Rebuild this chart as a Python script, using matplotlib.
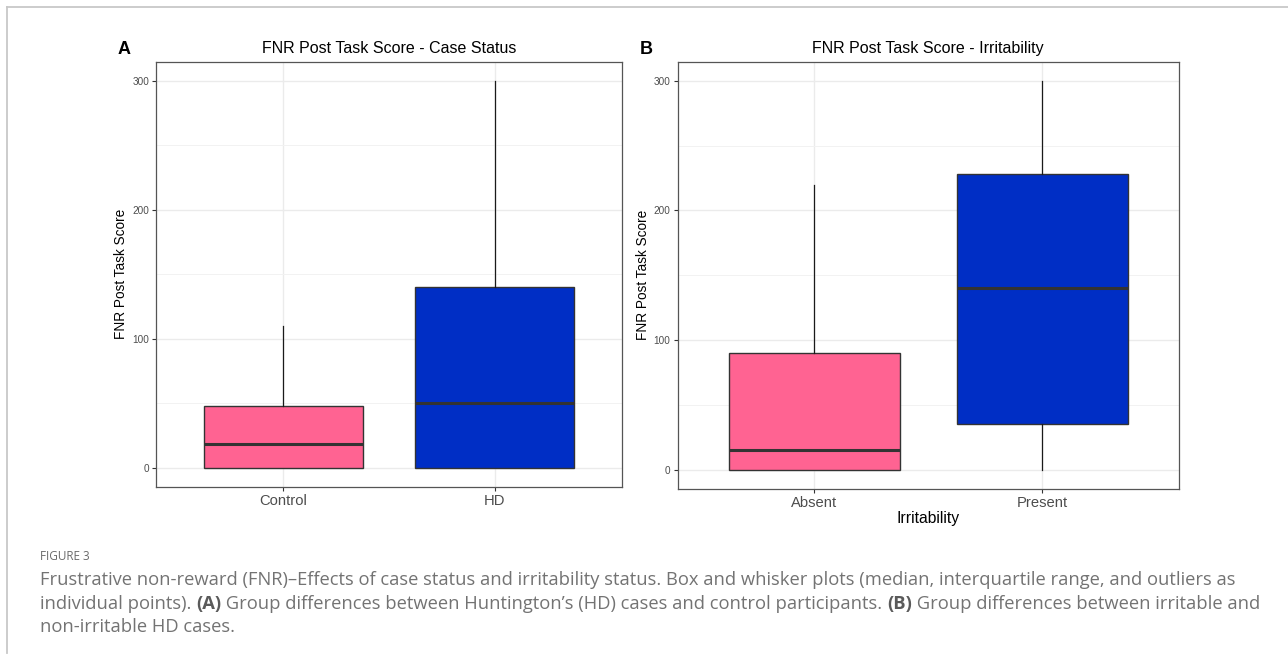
import matplotlib
matplotlib.use("Agg")
import matplotlib.pyplot as plt
from matplotlib.ticker import MultipleLocator

# ---- data ----
case_groups = ["Control", "HD"]
case_q1 = [0, 0]
case_med = [18, 50]
case_q3 = [48, 140]
case_whislo = [0, 0]
case_whishi = [110, 300]

irr_groups = ["Absent", "Present"]
irr_q1 = [0, 35]
irr_med = [15, 140]
irr_q3 = [90, 228]
irr_whislo = [0, 0]
irr_whishi = [220, 300]

y_ticks = [0, 100, 200, 300]
colors = ["#FF6392", "#002EC5"]

W, H = 1288, 657
fig = plt.figure(figsize=(W / 100, H / 100), dpi=100)
fig.patch.set_facecolor("white")


def rect(l, t, r, b):
    return [l / W, 1 - b / H, (r - l) / W, (b - t) / H]


def panel(ax, groups, q1, med, q3, lo, hi, title, xlabel=None):
    stats = []
    for g, a, m, c, wl, wh in zip(groups, q1, med, q3, lo, hi):
        stats.append(dict(label=g, q1=a, med=m, q3=c, whislo=wl, whishi=wh, fliers=[]))
    bp = ax.bxp(stats, positions=[1, 2], widths=0.75, patch_artist=True,
                showcaps=False, showfliers=False,
                boxprops=dict(edgecolor="#333333", linewidth=1.0),
                medianprops=dict(color="#333333", linewidth=2.2),
                whiskerprops=dict(color="#1a1a1a", linewidth=0.9),
                zorder=3)
    for p, c in zip(bp["boxes"], colors):
        p.set_facecolor(c)
    ax.set_xlim(0.4, 2.6)
    ax.set_ylim(-15, 315)
    ax.set_yticks(y_ticks)
    ax.yaxis.set_minor_locator(MultipleLocator(50))
    ax.grid(True, which="major", color="#EBEBEB", linewidth=1.0, zorder=0)
    ax.grid(True, which="minor", axis="y", color="#F2F2F2", linewidth=0.7, zorder=0)
    ax.set_axisbelow(True)
    for s in ax.spines.values():
        s.set_color("#555555")
        s.set_linewidth(0.9)
    ax.tick_params(axis="y", which="major", length=3, width=0.8, color="#333333",
                   labelsize=7.2, labelcolor="#4D4D4D", pad=2)
    ax.tick_params(axis="y", which="minor", length=0)
    ax.tick_params(axis="x", length=3, width=0.8, color="#333333",
                   labelsize=10.6, labelcolor="#4D4D4D", pad=2)
    ax.set_xticks([1, 2])
    ax.set_xticklabels(groups, family="Liberation Sans")
    for t in ax.get_yticklabels():
        t.set_family("Liberation Sans")
    ax.set_ylabel("FNR Post Task Score", family="Liberation Sans", fontsize=9.8,
                  labelpad=3)
    ax.set_title(title, family="Liberation Sans", fontsize=11.5, pad=6)
    if xlabel:
        ax.set_xlabel(xlabel, family="Liberation Sans", fontsize=11.3, labelpad=1)


axA = fig.add_axes(rect(156, 61.5, 622, 487))
panel(axA, case_groups, case_q1, case_med, case_q3, case_whislo, case_whishi,
      "FNR Post Task Score - Case Status")
axB = fig.add_axes(rect(677.5, 61.5, 1179, 489))
panel(axB, irr_groups, irr_q1, irr_med, irr_q3, irr_whislo, irr_whishi,
      "FNR Post Task Score - Irritability", xlabel="Irritability")

fig.text(118 / W, 1 - 50 / H, "A", family="Liberation Sans", fontweight="bold",
         fontsize=13, va="center", ha="left")
fig.text(640 / W, 1 - 49 / H, "B", family="Liberation Sans", fontweight="bold",
         fontsize=13, va="center", ha="left")

# frame lines
fig.add_artist(plt.Line2D([7 / W, 7 / W], [1 - 7 / H, 1 - 653 / H], color="#C8C8C8", lw=1.3))
fig.add_artist(plt.Line2D([7 / W, 1], [1 - 7 / H, 1 - 7 / H], color="#C8C8C8", lw=1.3))

# caption
cap_col = "#737373"
cap_font = "Open Sans"
fig.text(40 / W, 1 - 557 / H, "FIGURE 3", family=cap_font, fontsize=8.5,
         color="#6a6a6a", va="center", ha="left")

renderer = fig.canvas.get_renderer()
line1 = ("Frustrative non-reward (FNR)\u2013Effects of case status and irritability status. "
         "Box and whisker plots (median, interquartile range, and outliers as")
t = fig.text(40 / W, 1 - 580 / H, line1, family=cap_font, fontsize=12,
             color=cap_col, va="center", ha="left")
w = t.get_window_extent(renderer).width
cap_size = 12 * (1192 / w)
t.set_fontsize(cap_size)


def seg_line(y, segs):
    x = 40
    for txt, bold in segs:
        tt = fig.text(x / W, 1 - y / H, txt, family=cap_font, fontsize=cap_size,
                      color="#5a5a5a" if bold else cap_col,
                      fontweight="bold" if bold else "normal",
                      va="center", ha="left")
        x += tt.get_window_extent(renderer).width


seg_line(604, [("individual points). ", False), ("(A)", True),
               (" Group differences between Huntington\u2019s (HD) cases and control participants. ", False),
               ("(B)", True), (" Group differences between irritable and", False)])
seg_line(627, [("non-irritable HD cases.", False)])

fig.savefig("out.png", dpi=100, facecolor="white")
